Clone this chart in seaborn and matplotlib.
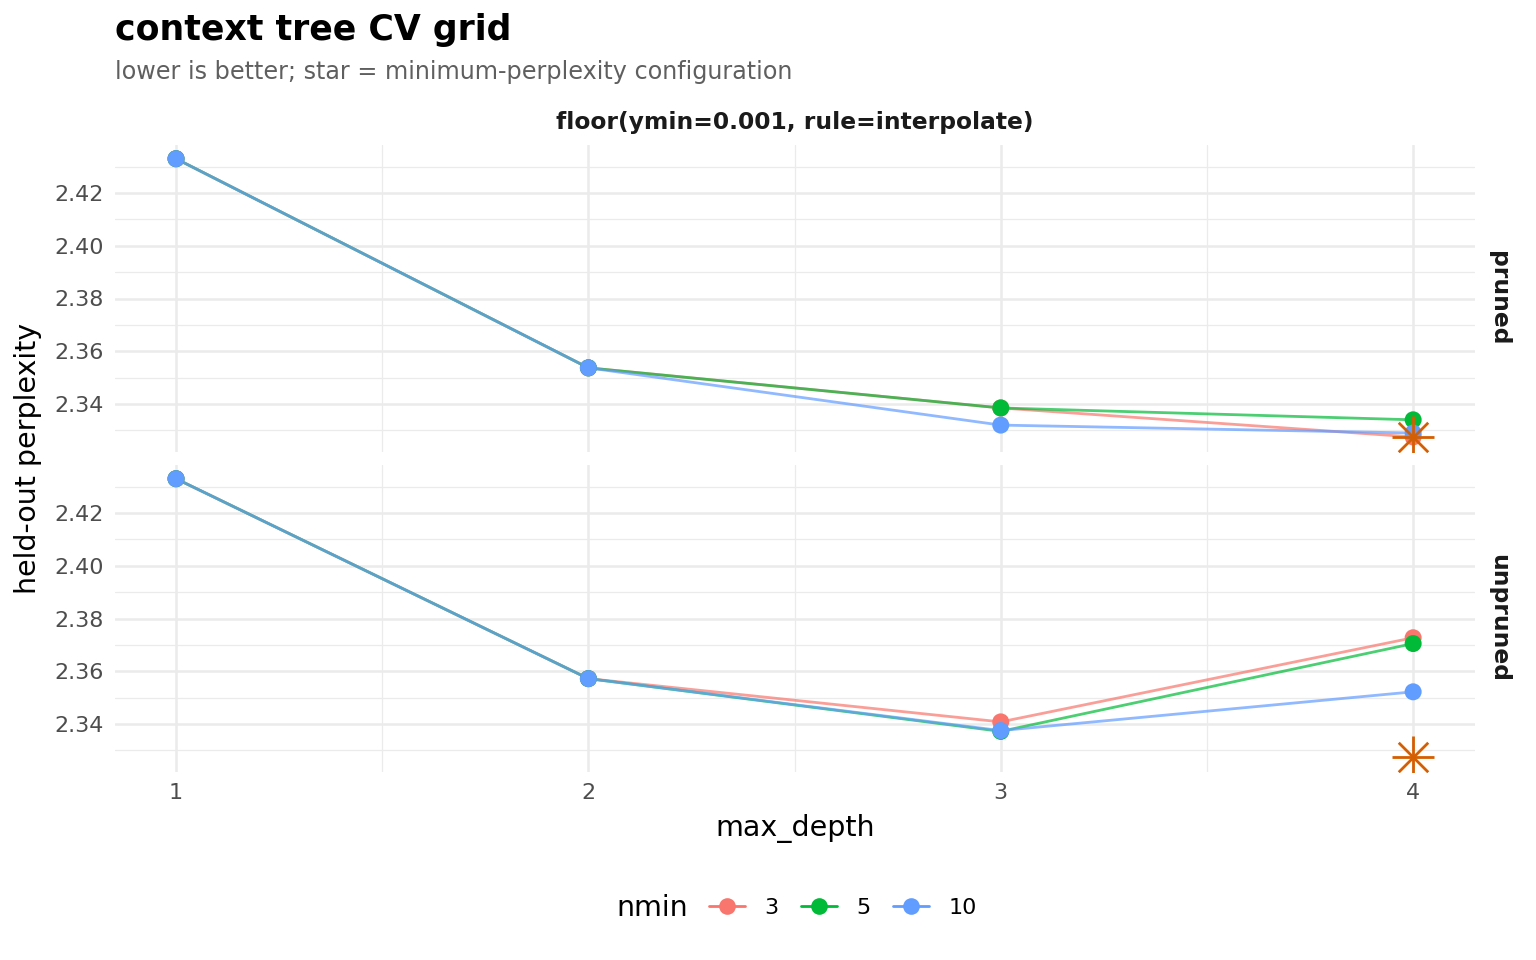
import numpy as np
import pandas as pd
import matplotlib
matplotlib.use('Agg')
import matplotlib.pyplot as plt
from matplotlib.lines import Line2D
import seaborn as sns

# values
max_depth = [1, 2, 3, 4]
nmin_levels = [3, 5, 10]
pruned_3 = [2.4330, 2.3537, 2.3385, 2.3275]
pruned_5 = [2.4330, 2.3537, 2.3385, 2.3340]
pruned_10 = [2.4330, 2.3537, 2.3320, 2.3290]
unpruned_3 = [2.4330, 2.3572, 2.3408, 2.3727]
unpruned_5 = [2.4330, 2.3572, 2.3372, 2.3705]
unpruned_10 = [2.4330, 2.3572, 2.3375, 2.3522]
best_depth = 4
best_ppl = 2.3275

rows = []
for panel, series in [('pruned', [pruned_3, pruned_5, pruned_10]),
                      ('unpruned', [unpruned_3, unpruned_5, unpruned_10])]:
    for nm, vals in zip(nmin_levels, series):
        for d, v in zip(max_depth, vals):
            rows.append({'panel': panel, 'nmin': str(nm), 'max_depth': d, 'ppl': v})
df = pd.DataFrame(rows)

pal = {'3': '#F8766D', '5': '#00BA38', '10': '#619CFF'}
hue_order = ['3', '5', '10']

sns.set_theme(style='white')
plt.rcParams['font.family'] = ['DejaVu Sans']
plt.rcParams['text.color'] = 'black'

fig = plt.figure(figsize=(15.36, 9.6), dpi=100)
left, width = 115 / 1536, 1360 / 1536
boxes = {'pruned': (145, 452), 'unpruned': (465, 772)}
axes = {}
for panel, (top, bot) in boxes.items():
    ax = fig.add_axes([left, 1 - bot / 960, width, (bot - top) / 960])
    axes[panel] = ax
    sub = df[df.panel == panel]
    sns.lineplot(data=sub, x='max_depth', y='ppl', hue='nmin', hue_order=hue_order,
                 palette=pal, alpha=0.7, linewidth=2, legend=False, ax=ax, zorder=3)
    sns.scatterplot(data=sub, x='max_depth', y='ppl', hue='nmin', hue_order=hue_order,
                    palette=pal, s=150, linewidth=0, legend=False, ax=ax, zorder=4)
    # asterisk for the minimum
    ax.scatter([best_depth], [best_ppl], marker='+', s=900, color='#D55E00', linewidths=2, zorder=5)
    ax.scatter([best_depth], [best_ppl], marker='x', s=450, color='#D55E00', linewidths=2, zorder=5)

    ax.set_xlim(0.852, 4.15)
    ax.set_ylim(2.3218, 2.4382)
    ax.set_yticks([2.34, 2.36, 2.38, 2.40, 2.42])
    ax.set_yticks(np.arange(2.33, 2.44, 0.02), minor=True)
    ax.set_xticks(max_depth)
    ax.set_xticks([1.5, 2.5, 3.5], minor=True)
    ax.grid(which='major', color='#EBEBEB', linewidth=1.8)
    ax.grid(which='minor', color='#EBEBEB', linewidth=0.9)
    ax.set_axisbelow(True)
    for s in ax.spines.values():
        s.set_visible(False)
    ax.tick_params(axis='both', which='both', length=0, labelsize=16, labelcolor='#4D4D4D', pad=8)
    ax.set_xlabel('')
    ax.set_ylabel('')
    ax.text(1.009, 0.5, panel, transform=ax.transAxes, rotation=-90, ha='left', va='center',
            fontsize=16.8, fontweight='bold', color='#1A1A1A')

axes['pruned'].tick_params(axis='x', labelbottom=False)
axes['unpruned'].set_xlabel('max_depth', fontsize=20.5, labelpad=8, color='black')
fig.text(28 / 1536, 1 - 458 / 960, 'held-out perplexity', rotation=90, ha='center', va='center',
         fontsize=20.5, color='black')

fig.text(0.5 * (left + left + width), 1 - 123 / 960, 'floor(ymin=0.001, rule=interpolate)',
         ha='center', va='center', fontsize=16.8, fontweight='bold', color='#1A1A1A')
fig.text(115 / 1536, 1 - 30 / 960, 'context tree CV grid', ha='left', va='center',
         fontsize=25, fontweight='bold', color='black')
fig.text(115 / 1536, 1 - 72 / 960, 'lower is better; star = minimum-perplexity configuration',
         ha='left', va='center', fontsize=17.2, color='#5F5F5F')

handles = [Line2D([0], [0], color=pal[k], marker='o', markersize=12, linewidth=2,
                  markeredgewidth=0) for k in hue_order]
leg = fig.legend(handles, hue_order, loc='center', bbox_to_anchor=(843 / 1536, 1 - 908 / 960),
                 ncol=3, frameon=False, fontsize=16, handlelength=1.6, columnspacing=1.0,
                 handletextpad=0.9)
fig.text(652 / 1536, 1 - 908 / 960, 'nmin', ha='center', va='center', fontsize=20.5, color='black')

fig.savefig('out.png', dpi=100)
